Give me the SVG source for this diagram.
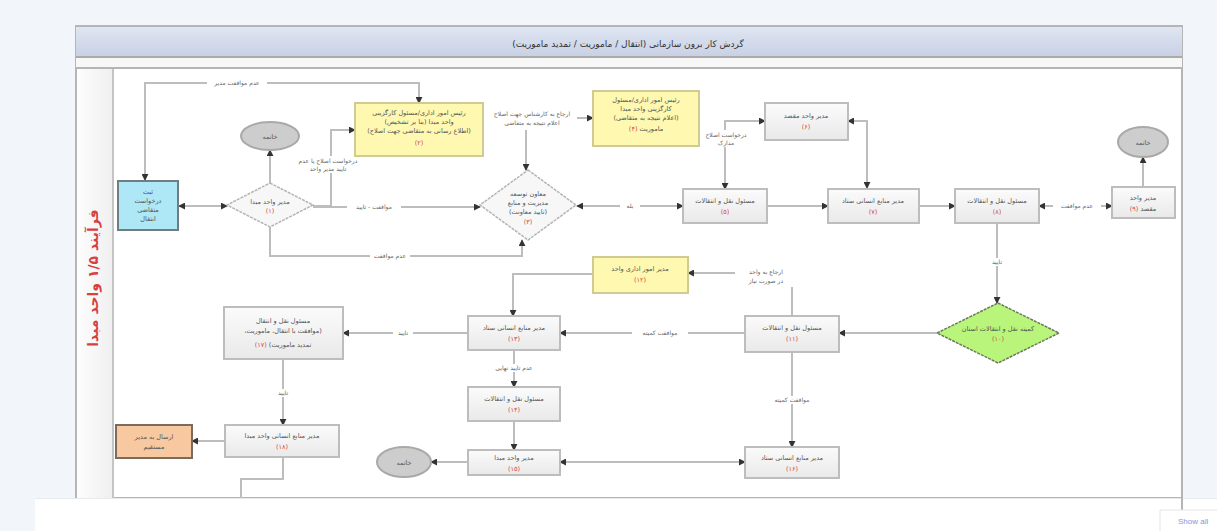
<svg xmlns="http://www.w3.org/2000/svg" width="1217" height="531" viewBox="0 0 1217 531">
  <defs>
    <linearGradient id="gBox" x1="0" y1="0" x2="0" y2="1">
      <stop offset="0" stop-color="#fbfbfb"/>
      <stop offset="1" stop-color="#e9e9e9"/>
    </linearGradient>
    <linearGradient id="gTitle" x1="0" y1="0" x2="0" y2="1">
      <stop offset="0" stop-color="#dfe5f2"/>
      <stop offset="1" stop-color="#c8d0e4"/>
    </linearGradient>
    <linearGradient id="gLane" x1="0" y1="0" x2="1" y2="0">
      <stop offset="0" stop-color="#fdfdfd"/>
      <stop offset="1" stop-color="#efefef"/>
    </linearGradient>
    <marker id="arr" viewBox="0 0 8 8" refX="7" refY="4" markerWidth="7" markerHeight="7" markerUnits="userSpaceOnUse" orient="auto-start-reverse">
      <path d="M0,0 L8,4 L0,8 z" fill="#333"/>
    </marker>
    <style>
      .t, .n, .lbl, .ttl, .lane { direction: rtl; unicode-bidi: embed; }
      .t { font-family: "DejaVu Sans", "Noto Sans", sans-serif; font-size: 6.5px; fill: #555; text-anchor: middle; }
      .n { font-family: "DejaVu Sans", "Noto Sans", sans-serif; font-size: 6.5px; fill: #d24a4a; text-anchor: middle; }
      .lbl { font-family: "DejaVu Sans", "Noto Sans", sans-serif; font-size: 6px; fill: #666; text-anchor: middle; }
      .ttl { font-family: "DejaVu Sans", sans-serif; font-size: 9px; fill: #333; text-anchor: middle; }
      .lane { font-family: "DejaVu Sans", sans-serif; font-size: 14px; font-weight: bold; fill: #d8403f; text-anchor: middle; }
      .task { fill: url(#gBox); stroke: #bdbdbd; stroke-width: 2; }
      .note { fill: #fff8b0; stroke: #cfcb93; stroke-width: 2; }
      .dec { fill: #f7f7f7; stroke: #b4b4b4; stroke-width: 1.5; stroke-dasharray: 3 1; }
      .term { fill: #cdcdcd; stroke: #a9a9a9; stroke-width: 2; }
      .wire { fill: none; stroke: #bdbdbd; stroke-width: 2; }
      .bg { fill: #fff; }
    </style>
  </defs>

  <!-- page -->
  <rect x="0" y="0" width="1217" height="531" fill="#f2f5f9"/>

  <!-- pool frame -->
  <g id="pool">
    <rect x="76" y="26" width="1106" height="472" fill="#fff" stroke="#b5b5b5" stroke-width="2"/>
    <rect x="76" y="27" width="1106" height="30" fill="url(#gTitle)"/>
    <line x1="76" y1="57" x2="1182" y2="57" stroke="#aaa" stroke-width="2"/>
    <rect x="76" y="58" width="1106" height="10" fill="#f7f7f7"/>
    <line x1="76" y1="68" x2="1182" y2="68" stroke="#b5b5b5" stroke-width="2"/>
    <rect x="77" y="69" width="36" height="429" fill="url(#gLane)"/>
    <line x1="113" y1="69" x2="113" y2="498" stroke="#c4c4c4" stroke-width="2"/>
    <text class="ttl" x="628" y="47">گردش کار برون سازمانی (انتقال / ماموریت / تمدید ماموریت)</text>
    <text class="lane" transform="translate(98,278) rotate(-90)">فرآیند ۱/۵ واحد مبدا</text>
  </g>

  <!-- connectors -->
  <g id="connectors">
    <polyline class="wire" points="419,103 419,83 145,83 145,180" marker-start="url(#arr)" marker-end="url(#arr)"/>
    <polyline class="wire" points="227,206 179,206" marker-start="url(#arr)" marker-end="url(#arr)"/>
    <polyline class="wire" points="270,184 270,150" marker-end="url(#arr)"/>
    <polyline class="wire" points="313,206 331,206 331,130 355,130" marker-end="url(#arr)"/>
    <polyline class="wire" points="313,207 480,207" marker-end="url(#arr)"/>
    <polyline class="wire" points="270,227 270,256 522,256 522,240" marker-end="url(#arr)"/>
    <polyline class="wire" points="593,118 526,118 526,170" marker-start="url(#arr)" marker-end="url(#arr)"/>
    <polyline class="wire" points="577,206 683,206" marker-start="url(#arr)" marker-end="url(#arr)"/>
    <polyline class="wire" points="725,189 725,121 765,121" marker-start="url(#arr)" marker-end="url(#arr)"/>
    <polyline class="wire" points="848,121 867,121 867,188" marker-start="url(#arr)" marker-end="url(#arr)"/>
    <polyline class="wire" points="767,206 828,206" marker-end="url(#arr)"/>
    <polyline class="wire" points="919,206 955,206" marker-end="url(#arr)"/>
    <polyline class="wire" points="1039,206 1112,206" marker-start="url(#arr)" marker-end="url(#arr)"/>
    <polyline class="wire" points="1143,187 1143,157" marker-end="url(#arr)"/>
    <polyline class="wire" points="997,223 997,303" marker-end="url(#arr)"/>
    <polyline class="wire" points="937,333 839,333" marker-end="url(#arr)"/>
    <polyline class="wire" points="792,316 792,273 688,273" marker-end="url(#arr)"/>
    <polyline class="wire" points="593,274 513,274 513,316" marker-end="url(#arr)"/>
    <polyline class="wire" points="745,333 560,333" marker-end="url(#arr)"/>
    <polyline class="wire" points="468,333 343,333" marker-end="url(#arr)"/>
    <polyline class="wire" points="514,350 514,387" marker-end="url(#arr)"/>
    <polyline class="wire" points="514,421 514,450" marker-end="url(#arr)"/>
    <polyline class="wire" points="560,462 745,462" marker-start="url(#arr)" marker-end="url(#arr)"/>
    <polyline class="wire" points="792,352 792,447" marker-end="url(#arr)"/>
    <polyline class="wire" points="468,462 431,462" marker-end="url(#arr)"/>
    <polyline class="wire" points="283,359 283,425" marker-end="url(#arr)"/>
    <polyline class="wire" points="225,441 192,441" marker-end="url(#arr)"/>
    <polyline class="wire" points="283,457 283,479 241,479 241,498"/>

    <!-- connector labels -->
    <rect class="bg" x="207" y="79" width="60" height="8"/>
    <text class="lbl" x="237" y="85">عدم موافقت مدیر</text>
    <rect class="bg" x="293" y="156" width="70" height="17"/>
    <text class="lbl" x="328" y="163">درخواست اصلاح یا عدم</text>
    <text class="lbl" x="328" y="171">تایید مدیر واحد</text>
    <rect class="bg" x="347" y="203" width="54" height="8"/>
    <text class="lbl" x="374" y="209">موافقت - تایید</text>
    <rect class="bg" x="370" y="252" width="40" height="8"/>
    <text class="lbl" x="390" y="258">عدم موافقت</text>
    <rect class="bg" x="488" y="108" width="89" height="22"/>
    <text class="lbl" x="532" y="116">ارجاع به کارشناس جهت اصلاح</text>
    <text class="lbl" x="532" y="125">اعلام نتیجه به متقاضی</text>
    <rect class="bg" x="620" y="202" width="20" height="8"/>
    <text class="lbl" x="630" y="208">بله</text>
    <rect class="bg" x="700" y="130" width="52" height="17"/>
    <text class="lbl" x="726" y="137">درخواست اصلاح</text>
    <text class="lbl" x="726" y="145">مدارک</text>
    <rect class="bg" x="1053" y="202" width="48" height="8"/>
    <text class="lbl" x="1077" y="208">عدم موافقت</text>
    <rect class="bg" x="987" y="258" width="20" height="8"/>
    <text class="lbl" x="997" y="264">تایید</text>
    <rect class="bg" x="735" y="267" width="62" height="20"/>
    <text class="lbl" x="766" y="274">ارجاع به واحد</text>
    <text class="lbl" x="766" y="283">در صورت نیاز</text>
    <rect class="bg" x="632" y="329" width="56" height="8"/>
    <text class="lbl" x="660" y="335">موافقت کمیته</text>
    <rect class="bg" x="393" y="329" width="20" height="8"/>
    <text class="lbl" x="403" y="335">تایید</text>
    <rect class="bg" x="484" y="364" width="60" height="8"/>
    <text class="lbl" x="514" y="370">عدم تایید نهایی</text>
    <rect class="bg" x="766" y="396" width="52" height="8"/>
    <text class="lbl" x="792" y="402">موافقت کمیته</text>
    <rect class="bg" x="273" y="389" width="20" height="8"/>
    <text class="lbl" x="283" y="395">تایید</text>
  </g>

  <!-- nodes -->
  <g id="n-request">
    <rect x="118" y="181" width="60" height="49" fill="#aee7f6" stroke="#6f7d80" stroke-width="2"/>
    <text class="t" x="148" y="194">ثبت</text>
    <text class="t" x="148" y="203">درخواست</text>
    <text class="t" x="148" y="212">متقاضی</text>
    <text class="t" x="148" y="221">انتقال</text>
  </g>
  <g id="n-dec-manager">
    <polygon class="dec" points="270,183 313,205 270,227 227,205"/>
    <text class="t" x="270" y="204">مدیر واحد مبدا</text>
    <text class="n" x="270" y="213">(۱)</text>
  </g>
  <g id="n-end-1">
    <ellipse class="term" cx="270" cy="136" rx="29" ry="14"/>
    <text class="t" x="270" y="139" fill="#444">خاتمه</text>
  </g>
  <g id="n-note-1">
    <rect class="note" x="355" y="103" width="128" height="53"/>
    <text class="t" x="419" y="115">رئیس امور اداری/مسئول کارگزینی</text>
    <text class="t" x="419" y="124">واحد مبدا (بنا بر تشخیص)</text>
    <text class="t" x="419" y="133">(اطلاع رسانی به متقاضی جهت اصلاح)</text>
    <text class="n" x="419" y="145">(۲)</text>
  </g>
  <g id="n-dec-deputy">
    <polygon class="dec" points="528,170 576,205 528,240 480,205"/>
    <text class="t" x="528" y="196">معاون توسعه</text>
    <text class="t" x="528" y="205">مدیریت و منابع</text>
    <text class="t" x="528" y="214">(تایید معاونت)</text>
    <text class="n" x="528" y="224">(۳)</text>
  </g>
  <g id="n-note-2">
    <rect class="note" x="593" y="91" width="106" height="55"/>
    <text class="t" x="646" y="102">رئیس امور اداری/مسئول</text>
    <text class="t" x="646" y="111">کارگزینی واحد مبدا</text>
    <text class="t" x="646" y="120">(اعلام نتیجه به متقاضی)</text>
    <text class="t" x="646" y="131">ماموریت <tspan fill="#d24a4a">(۴)</tspan></text>
  </g>
  <g id="n-transfer-1">
    <rect class="task" x="683" y="189" width="84" height="34"/>
    <text class="t" x="725" y="203">مسئول نقل و انتقالات</text>
    <text class="n" x="725" y="214">(۵)</text>
  </g>
  <g id="n-dest-manager">
    <rect class="task" x="765" y="103" width="83" height="37"/>
    <text class="t" x="806" y="118">مدیر واحد مقصد</text>
    <text class="n" x="806" y="129">(۶)</text>
  </g>
  <g id="n-hr-hq-1">
    <rect class="task" x="828" y="189" width="91" height="34"/>
    <text class="t" x="873" y="203">مدیر منابع انسانی ستاد</text>
    <text class="n" x="873" y="214">(۷)</text>
  </g>
  <g id="n-transfer-2">
    <rect class="task" x="955" y="189" width="84" height="34"/>
    <text class="t" x="997" y="203">مسئول نقل و انتقالات</text>
    <text class="n" x="997" y="214">(۸)</text>
  </g>
  <g id="n-dest-unit">
    <rect class="task" x="1112" y="187" width="63" height="31"/>
    <text class="t" x="1143" y="200">مدیر واحد</text>
    <text class="t" x="1143" y="211">مقصد <tspan fill="#d24a4a">(۹)</tspan></text>
  </g>
  <g id="n-end-2">
    <ellipse class="term" cx="1143" cy="142" rx="25" ry="15"/>
    <text class="t" x="1143" y="145" fill="#444">خاتمه</text>
  </g>
  <g id="n-committee">
    <polygon points="998,303 1059,333 998,363 937,333" fill="#b9f57a" stroke="#6c7a5c" stroke-width="1.5" stroke-dasharray="3 1"/>
    <text class="t" x="998" y="331">کمیته نقل و انتقالات استان</text>
    <text class="n" x="998" y="341" fill="#c9822e">(۱۰)</text>
  </g>
  <g id="n-transfer-3">
    <rect class="task" x="745" y="316" width="94" height="36"/>
    <text class="t" x="792" y="330">مسئول نقل و انتقالات</text>
    <text class="n" x="792" y="341">(۱۱)</text>
  </g>
  <g id="n-note-3">
    <rect class="note" x="593" y="257" width="95" height="36"/>
    <text class="t" x="640" y="271">مدیر امور اداری واحد</text>
    <text class="n" x="640" y="282" fill="#c9822e">(۱۲)</text>
  </g>
  <g id="n-hr-hq-2">
    <rect class="task" x="468" y="316" width="92" height="34"/>
    <text class="t" x="514" y="330">مدیر منابع انسانی ستاد</text>
    <text class="n" x="514" y="341">(۱۳)</text>
  </g>
  <g id="n-transfer-4">
    <rect class="task" x="468" y="387" width="92" height="34"/>
    <text class="t" x="514" y="401">مسئول نقل و انتقالات</text>
    <text class="n" x="514" y="412">(۱۴)</text>
  </g>
  <g id="n-origin-manager">
    <rect class="task" x="468" y="450" width="92" height="25"/>
    <text class="t" x="514" y="460">مدیر واحد مبدا</text>
    <text class="n" x="514" y="471">(۱۵)</text>
  </g>
  <g id="n-hr-hq-3">
    <rect class="task" x="745" y="447" width="94" height="31"/>
    <text class="t" x="792" y="460">مدیر منابع انسانی ستاد</text>
    <text class="n" x="792" y="471">(۱۶)</text>
  </g>
  <g id="n-end-3">
    <ellipse class="term" cx="404" cy="462" rx="27" ry="15"/>
    <text class="t" x="404" y="465" fill="#444">خاتمه</text>
  </g>
  <g id="n-transfer-final">
    <rect class="task" x="224" y="307" width="119" height="52"/>
    <text class="t" x="283" y="323">مسئول نقل و انتقال</text>
    <text class="t" x="283" y="333">(موافقت با انتقال، ماموریت،</text>
    <text class="t" x="283" y="347">تمدید ماموریت) <tspan fill="#d24a4a">(۱۷)</tspan></text>
  </g>
  <g id="n-hr-origin">
    <rect class="task" x="225" y="425" width="114" height="32"/>
    <text class="t" x="282" y="438">مدیر منابع انسانی واحد مبدا</text>
    <text class="n" x="282" y="449">(۱۸)</text>
  </g>
  <g id="n-send">
    <rect x="116" y="425" width="76" height="33" fill="#f8c9a0" stroke="#7c6b5c" stroke-width="2"/>
    <text class="t" x="154" y="439" fill="#444">ارسال به مدیر</text>
    <text class="t" x="154" y="449" fill="#444">مستقیم</text>
  </g>

  <!-- page footer -->
  <g id="footer">
    <rect x="35" y="498" width="1182" height="33" fill="#fff"/>
    <line x1="35" y1="498.5" x2="1217" y2="498.5" stroke="#e8ebee" stroke-width="1"/>
    <line x1="1182" y1="498" x2="1182" y2="510" stroke="#b5b5b5" stroke-width="2"/>
    <rect x="1160" y="510" width="60" height="24" fill="#fff" stroke="#e6e6e6"/>
    <text x="1178" y="524" font-family="Liberation Sans, sans-serif" font-size="8" fill="#7f98da">Show all</text>
  </g>
</svg>
